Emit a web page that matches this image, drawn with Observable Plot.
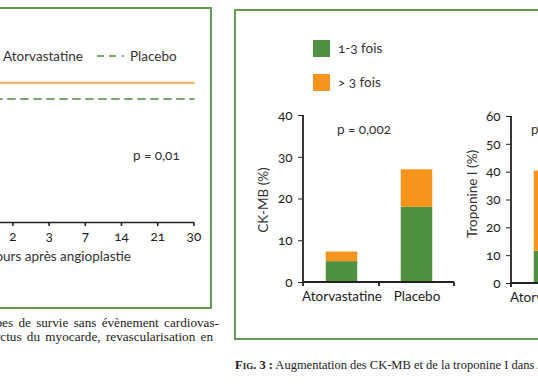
<!DOCTYPE html>
<html>
<head>
<meta charset="utf-8">
<script src="https://cdn.jsdelivr.net/npm/d3@7"></script>
<script src="https://cdn.jsdelivr.net/npm/@observablehq/plot@0.6"></script>
<style>
html, body { margin: 0; padding: 0; background: #fff; }
#root { position: relative; width: 538px; height: 384px; overflow: hidden; background: #fff;
  font-family: "Lato", "Noto Sans", sans-serif; color: #333;
  font-variant-numeric: oldstyle-nums; font-feature-settings: "onum"; }
.abs { position: absolute; white-space: nowrap; }
.box { position: absolute; border: 2px solid #629c4c; box-sizing: border-box; }
.t12 { font-size: 13.5px; line-height: 14px; }
.rot { font-size: 13.5px; line-height: 14px; transform: translate(-50%, -50%) rotate(-90deg); }
.cap { font-family: "Liberation Serif", serif; font-size: 12.5px; line-height: 14px; color: #222; }
.capL { font-size: 13.2px; word-spacing: 2px; }
.sc { font-variant: small-caps; font-weight: bold; }
#root svg g[aria-label^="x-axis"] line, #root svg g[aria-label^="x-axis"] path { stroke-width: 1.6; }
#root svg g[aria-label^="y-axis"] line { stroke-width: 1.6; }
</style>
</head>
<body>
<div id="root"></div>
<script>
// ---- Données ----
const days = ["0", "1", "2", "3", "7", "14", "21", "30"];
const survieAtorvastatine = [100, 95, 95, 95, 95, 95, 95, 95];
const surviePlacebo = [100, 84, 84, 84, 84, 84, 84, 84];
const joursVisibles = ["2", "3", "7", "14", "21", "30"];

const groupes = ["Atorvastatine", "Placebo"];
const niveaux = ["1-3 fois", "> 3 fois"];
const ckmb_1_3 = [5, 18];
const ckmb_sup3 = [2.3, 9];
const troponine_1_3 = [11.6];      // Atorvastatine (Placebo hors cadre)
const troponine_sup3 = [28.8];
const couleurs = ["#4f9140", "#f7941d"];

const root = document.getElementById("root");
function place(el, left, top) {
  el.style.position = "absolute";
  el.style.left = left + "px";
  el.style.top = top + "px";
  root.appendChild(el);
  return el;
}
function html(s, left, top, cls) {
  const d = document.createElement("div");
  d.className = "abs " + (cls || "t12");
  d.innerHTML = s;
  return place(d, left, top);
}
const svgStyle = { background: "transparent", overflow: "visible", fontFamily: "Lato, Noto Sans, sans-serif",
  fontSize: "13.5px", color: "#222", fontVariantNumeric: "oldstyle-nums", fontFeatureSettings: "'onum'" };

// ---- Cadres ----
const b1 = document.createElement("div"); b1.className = "box";
b1.style.width = "232px"; b1.style.height = "302px"; place(b1, -20, 7);
const b2 = document.createElement("div"); b2.className = "box";
b2.style.width = "400px"; b2.style.height = "331px"; place(b2, 234, 9);

// ---- Figure de gauche : survie ----
const surv = [];
days.forEach((d, i) => {
  surv.push({ i, v: survieAtorvastatine[i], s: "Atorvastatine" });
  surv.push({ i, v: surviePlacebo[i], s: "Placebo" });
});
const left = Plot.plot({
  width: 320, height: 212,
  marginTop: 20, marginBottom: 45, marginLeft: 40, marginRight: 26.6,
  style: svgStyle,
  x: { type: "linear", domain: [0, days.length - 1], ticks: joursVisibles.map(j => days.indexOf(j)),
       tickFormat: i => days[i], tickSize: 4, tickPadding: 5, label: null },
  y: { domain: [0, 100], axis: null },
  marks: [
    Plot.ruleY([0], { stroke: "#222", strokeWidth: 1.6 }),
    Plot.line(surv.filter(d => d.s === "Atorvastatine"), { x: "i", y: "v", curve: "step-after", stroke: "#f3b66c", strokeWidth: 2.2 }),
    Plot.line(surv.filter(d => d.s === "Placebo"), { x: "i", y: "v", curve: "step-after", stroke: "#7aa86c", strokeWidth: 2, strokeDasharray: "7,6" })
  ]
});
place(left, -100.4, 55);
const xl = html("Jours après angioplastie", 0, 249);
xl.style.left = ""; xl.style.right = (538 - 131) + "px";

// légende gauche
const lg = d3.create("svg").attr("width", 34).attr("height", 8);
lg.append("line").attr("x1", 0).attr("x2", 28).attr("y1", 4).attr("y2", 4).attr("stroke", "#f3b66c").attr("stroke-width", 2.2);
place(lg.node(), -38, 52);
html("Atorvastatine", 3, 49);
const lp = d3.create("svg").attr("width", 30).attr("height", 8);
lp.append("line").attr("x1", 0).attr("x2", 29).attr("y1", 4).attr("y2", 4).attr("stroke", "#7aa86c")
  .attr("stroke-width", 2).attr("stroke-dasharray", "7,5,7,6,2,10");
place(lp.node(), 97, 52);
html("Placebo", 130, 49);
html("p = 0,01", 133, 148);

// légende de figure gauche (tronquée comme dans l'original)
const c1 = html("Fig. 2 : Courbes de survie sans évènement cardiovas-", 0, 316, "cap capL");
c1.style.left = ""; c1.style.right = (538 - 219) + "px";
const c2 = html("culaire (décès, infarctus du myocarde, revascularisation en", 0, 330, "cap capL");
c2.style.left = ""; c2.style.right = (538 - 213) + "px";

// ---- Figure de droite : barres empilées ----
function rowsFor(a, b) {
  const r = [];
  a.forEach((v, i) => {
    r.push({ g: groupes[i], n: niveaux[0], v: a[i] });
    r.push({ g: groupes[i], n: niveaux[1], v: b[i] });
  });
  return r;
}
const axisMarks = (index, scales, values, dims) => {
  const x0 = dims.marginLeft, x1 = dims.width - dims.marginRight;
  const yb = dims.height - dims.marginBottom, yt = dims.marginTop;
  let xm = (x0 + x1) / 2;
  try { const v = scales.x(groupes[1]); if (isFinite(v)) xm = v; } catch (e) {}
  const g = d3.create("svg:g").attr("stroke", "#222").attr("stroke-width", 1.8);
  g.append("line").attr("x1", x0).attr("x2", x0).attr("y1", yt).attr("y2", yb + 1);
  g.append("line").attr("x1", x0).attr("x2", x1).attr("y1", yb).attr("y2", yb);
  [x0, xm, x1].forEach(x => g.append("line").attr("x1", x).attr("x2", x).attr("y1", yb).attr("y2", yb + 4));
  return g.node();
};
function barChart(rows, yMax, yTicks) {
  return Plot.plot({
    width: 221, height: 207,
    marginTop: 10, marginBottom: 30, marginLeft: 60, marginRight: 10,
    style: svgStyle,
    x: { domain: groupes, padding: 0, tickSize: 0, tickPadding: 9, label: null },
    y: { domain: [0, yMax], ticks: yTicks, tickSize: 5, tickPadding: 6, label: null },
    color: { domain: niveaux, range: couleurs },
    marks: [
      Plot.barY(rows, { x: "g", y: "v", fill: "n", insetLeft: 21.75, insetRight: 21.75 }),
      axisMarks
    ]
  });
}
place(barChart(rowsFor(ckmb_1_3, ckmb_sup3), 40, [0, 10, 20, 30, 40]), 243, 105);
place(barChart(rowsFor(troponine_1_3, troponine_sup3), 60, [0, 10, 20, 30, 40, 50, 60]), 451, 106);
html("CK-MB (%)", 263, 200, "abs rot");
html("Troponine I (%)", 472, 194, "abs rot");

// légende droite
niveaux.forEach((n, i) => {
  const sq = document.createElement("div");
  sq.style.width = "17px"; sq.style.height = "17px"; sq.style.background = couleurs[i];
  place(sq, 313, 40 + i * 34);
  html(n, 338, 41 + i * 34);
});
html("p = 0,002", 337, 122);
html("p = 0,001", 531, 122);

html('<span class="sc">Fig. 3 :</span> Augmentation des CK-MB et de la troponine I dans ARMYDA.', 235, 358, "cap");
</script>
</body>
</html>
